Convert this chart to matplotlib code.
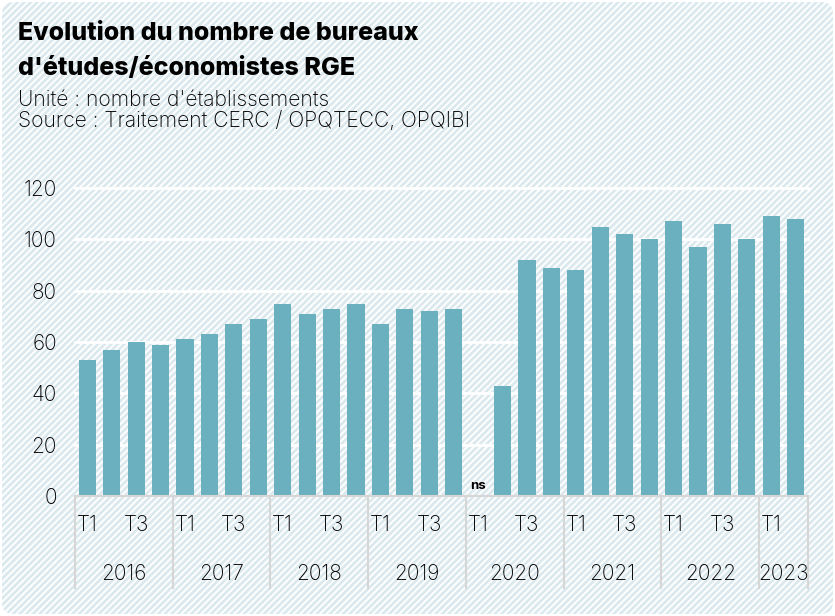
"""Evolution du nombre de bureaux d'études/économistes RGE"""
import numpy as np
import matplotlib
matplotlib.use('Agg')
import matplotlib.pyplot as plt
import matplotlib.patches as mpatches

plt.rcParams['font.family'] = ['Inter', 'DejaVu Sans']
plt.rcParams['text.color'] = '#000000'
plt.rcParams['ytick.color'] = '#000000'

W_PX, H_PX = 835, 616
BAR = '#6bb0bf'
STRIPE = '#dbe9ee'
SEP = '#d6d6d6'
LIGHT = 'light'

years = ['2016', '2017', '2018', '2019', '2020', '2021', '2022', '2023']
quarters_per_year = [4, 4, 4, 4, 4, 4, 4, 2]
quarter_labels = ['T1', '', 'T3', '']
values = [53, 57, 60, 59,
          61, 63, 67, 69,
          75, 71, 73, 75,
          67, 73, 72, 73,
          np.nan, 43, 92, 89,
          88, 105, 102, 100,
          107, 97, 106, 100,
          109, 108]
yticks = [0, 20, 40, 60, 80, 100, 120]

fig = plt.figure(figsize=(W_PX / 100, H_PX / 100), dpi=100)
fig.patch.set_facecolor('white')

# fond hachuré
bg = fig.add_axes([0, 0, 1, 1], zorder=-5)
bg.set_xlim(0, W_PX); bg.set_ylim(0, H_PX); bg.axis('off')
clip = mpatches.FancyBboxPatch((2, 2), W_PX - 4, H_PX - 4,
                               boxstyle='round,pad=0,rounding_size=12',
                               fc='white', ec='none', transform=bg.transData)
bg.add_patch(clip)
step = 6.6
for c in np.arange(-H_PX, W_PX + step, step):
    ln, = bg.plot([c, c + H_PX], [0, H_PX], color=STRIPE, lw=2.0,
                  solid_capstyle='butt')
    ln.set_clip_path(clip)

# titres
fig.text(18 / W_PX, 1 - 33 / H_PX, 'Evolution du nombre de bureaux',
         fontsize=18, fontweight='heavy', va='center', ha='left')
fig.text(18 / W_PX, 1 - 69 / H_PX, "d'études/économistes RGE",
         fontsize=18, fontweight='heavy', va='center', ha='left')
fig.text(18 / W_PX, 1 - 100 / H_PX, "Unité : nombre d'établissements",
         fontsize=15.2, fontweight=LIGHT, va='center', ha='left')
fig.text(18 / W_PX, 1 - 121 / H_PX, 'Source : Traitement CERC / OPQTECC, OPQIBI',
         fontsize=15.2, fontweight=LIGHT, va='center', ha='left')

# graphique
L, R, T, B = 75, 808, 188, 496
ax = fig.add_axes([L / W_PX, 1 - B / H_PX, (R - L) / W_PX, (B - T) / H_PX])
ax.patch.set_alpha(0)
x = np.arange(len(values))
ax.bar(x, values, width=0.7, color=BAR, zorder=3)
ax.set_xlim(-0.5, len(values) - 0.5)
ax.set_ylim(0, 120)
ax.set_yticks(yticks)
ax.set_yticklabels([str(v) for v in yticks], fontweight=LIGHT)
for v in yticks[1:]:
    ax.axhline(v, color='white', lw=2, zorder=1, clip_on=False)
for s in ax.spines.values():
    s.set_visible(False)
ax.axhline(0, color=SEP, lw=1.5, zorder=4, clip_on=False)
ax.tick_params(axis='y', length=0, labelsize=15, pad=13)
ax.tick_params(axis='x', length=0)
ax.set_xticks([])

# "ns" pour la valeur non significative
for i, v in enumerate(values):
    if np.isnan(v):
        ax.text(i, 1.5, 'ns', ha='center', va='bottom', fontsize=9.5,
                fontweight='bold')

# axe x à deux niveaux
trans = ax.get_xaxis_transform()
px = 1 / (B - T)  # hauteur d'un pixel en coordonnées d'axe
start = 0
for yr, n in zip(years, quarters_per_year):
    ax.plot([start - 0.5, start - 0.5], [0, -92 * px], color=SEP, lw=1.5,
            transform=trans, clip_on=False)
    for q in range(n):
        if quarter_labels[q]:
            ax.text(start + q, -29 * px, quarter_labels[q], transform=trans,
                    ha='center', va='center', fontsize=15, fontweight=LIGHT)
    ax.text(start + (n - 1) / 2, -78 * px, yr, transform=trans,
            ha='center', va='center', fontsize=15, fontweight=LIGHT)
    start += n
ax.plot([start - 0.5, start - 0.5], [0, -92 * px], color=SEP, lw=1.5,
        transform=trans, clip_on=False)

plt.savefig('out.png', dpi=100, facecolor='white')
plt.close()
